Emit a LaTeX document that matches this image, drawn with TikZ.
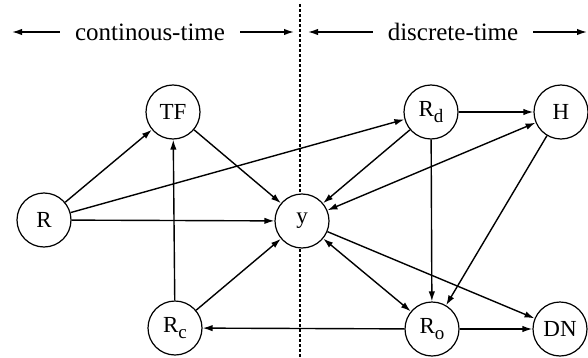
\documentclass[tikz,border=0pt]{standalone}
\usepackage{fontspec}
\setmainfont{Liberation Serif}
\usetikzlibrary{arrows.meta}
\newcommand{\lowsub}[1]{\raisebox{-2.6pt}{\fontsize{9.5}{10}\selectfont #1}}
\begin{document}
\begin{tikzpicture}[x=0.5pt,y=-0.5pt,
  state/.style={circle,draw,line width=0.6pt,fill=white,minimum size=27pt,inner sep=0pt,
    font=\fontsize{11.5}{13}\selectfont},
  edge/.style={line width=0.7pt,-{Latex[length=5pt,width=3.2pt]}},
  both/.style={line width=0.7pt,{Latex[length=5pt,width=3.2pt]}-{Latex[length=5pt,width=3.2pt]}},
  header/.style={font=\fontsize{12.5}{14}\selectfont},
  span/.style={line width=0.7pt,-{Latex[length=5pt,width=3.2pt]}}]
\useasboundingbox (0,0) rectangle (588,358);

% boundary between the two domains
\draw[line width=0.6pt,dash pattern=on 1.5pt off 1pt] (300,4) -- (300,358);

% domain headers
\node[header] (ct) at (150,32) {continous-time};
\node[header] (dt) at (453,32) {discrete-time};
\coordinate (ctl) at (12,32);
\coordinate (ctr) at (294,32);
\coordinate (dtl) at (308,32);
\coordinate (dtr) at (587,32);
\draw[span] (ct.west) ++(-8,0) coordinate (a1) (a1) -- (ctl);
\draw[span] (ct.east) ++(8,0) coordinate (a2) (a2) -- (ctr);
\draw[span] (dt.west) ++(-8,0) coordinate (a3) (a3) -- (dtl);
\draw[span] (dt.east) ++(8,0) coordinate (a4) (a4) -- (dtr);

% states
\node[state] (R)  at (44,220)  {R};
\node[state] (TF) at (173,112) {TF};
\node[state] (y)  at (302,221) {y};
\node[state] (Rd) at (431,112) {R\lowsub{d}};
\node[state] (H)  at (561,112) {H};
\node[state] (Rc) at (175,328) {R\lowsub{c}};
\node[state] (Ro) at (432,329) {R\lowsub{o}};
\node[state] (DN) at (560,329) {DN};

% transitions
\draw[edge] (R) -- (TF);
\draw[edge] (R) -- (Rd);
\draw[edge] (R) -- (y);
\draw[edge] (TF) -- (y);
\draw[edge] (Rc) -- (TF);
\draw[edge] (Rc) -- (y);
\draw[edge] (Rd) -- (H);
\draw[edge] (Rd) -- (y);
\draw[edge] (Rd) -- (Ro);
\draw[both] (y) -- (H);
\draw[edge] (H) -- (Ro);
\draw[both] (y) -- (Ro);
\draw[edge] (y) -- (DN);
\draw[edge] (Ro) -- (Rc);
\draw[edge] (Ro) -- (DN);
\end{tikzpicture}
\end{document}
